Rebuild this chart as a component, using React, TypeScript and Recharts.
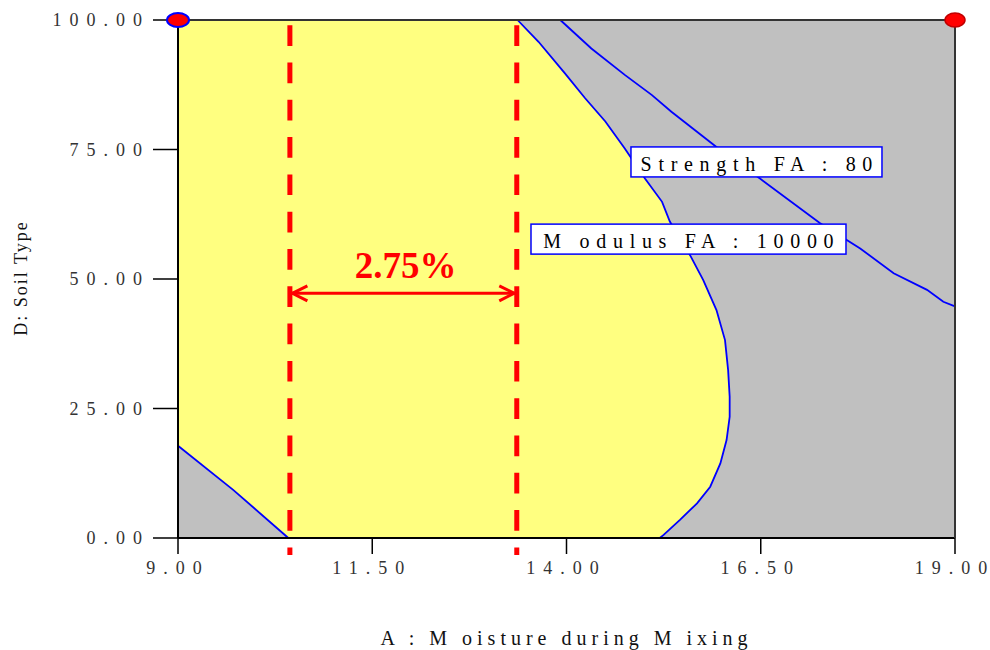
import React from 'react';
import { ComposedChart, XAxis, YAxis, CartesianGrid, Scatter, ReferenceLine, Label } from 'recharts';

// ---------------- data ----------------
const xTicks = [9, 11.5, 14, 16.5, 19];
const yTicks = [0, 25, 50, 75, 100];
const xAxisTitle = 'A : M oisture during M ixing';
const yAxisTitle = 'D: Soil Type';

// Modulus FA : 10000 contour (right boundary of the feasible region)
const modulusContour = [
  { x: 13.37, y: 100 }, { x: 13.64, y: 95.8 }, { x: 13.98, y: 89.7 }, { x: 14.24, y: 84.9 },
  { x: 14.5, y: 80.4 }, { x: 14.75, y: 75.2 }, { x: 15.01, y: 69.4 }, { x: 15.23, y: 64.9 },
  { x: 15.33, y: 61.1 }, { x: 15.59, y: 54.6 }, { x: 15.76, y: 49.8 }, { x: 15.93, y: 44.0 },
  { x: 16.04, y: 38.2 }, { x: 16.08, y: 32.4 }, { x: 16.1, y: 27.3 }, { x: 16.1, y: 23.4 },
  { x: 16.06, y: 18.9 }, { x: 15.98, y: 14.4 }, { x: 15.85, y: 9.9 }, { x: 15.68, y: 6.7 },
  { x: 15.46, y: 3.5 }, { x: 15.25, y: 0.6 }, { x: 15.2, y: 0 },
];
const modulusOuterCorners = [{ x: 19, y: 0 }, { x: 19, y: 100 }];
// Lower-left infeasible corner
const modulusLowContour = [{ x: 9, y: 17.8 }, { x: 9.71, y: 9.3 }, { x: 10.42, y: 0 }];
const modulusLowCorner = [{ x: 9, y: 0 }];
// Strength FA : 80 contour
const strengthContour = [
  { x: 13.92, y: 100 }, { x: 14.32, y: 94.5 }, { x: 14.75, y: 89.4 }, { x: 15.1, y: 85.5 },
  { x: 15.35, y: 82.3 }, { x: 15.93, y: 75.5 }, { x: 16.49, y: 69.4 }, { x: 17.26, y: 60.8 },
  { x: 17.78, y: 55.9 }, { x: 18.21, y: 51.1 }, { x: 18.64, y: 47.9 }, { x: 18.85, y: 45.6 },
  { x: 19, y: 44.7 },
];
// Moisture window
const windowBounds = [10.44, 13.36];
const boundsSpan = [99, -3.3];
const arrowLevel = 47.24;
const windowLabel = [{ x: 11.93, y: 50.13, text: '2.75%' }];
const contourLabels = [
  { x: 16.445, y: 72.6, text: 'Strength FA : 80' },
  { x: 15.57, y: 57.7, text: 'M odulus FA : 10000' },
];
const designPoints = [{ x: 9, y: 100, kind: 'a' }, { x: 19, y: 100, kind: 'b' }];

// ---------------- styles ----------------
const SERIF = "'Liberation Serif', 'Times New Roman', Times, serif";
const YELLOW = '#FFFF80';
const GREY = '#C0C0C0';
const BLUE = '#0000FF';
const RED = '#FF0000';
const LABEL_BOX_W: Record<string, number> = { 'Strength FA : 80': 251, 'M odulus FA : 10000': 315 };
const LABEL_BOX_H = 30;
const TICK_FONT = 18;
const TICK_LS = 8;

const fmt = (v: number) => v.toFixed(2);

const spaced = (s: string, ls: number) =>
  s.split('').map((ch, i) => (
    <tspan key={i} dx={i === 0 ? 0 : ls}>{ch}</tspan>
  ));

const Nothing = () => <g />;

const XTick = (props: any) => {
  const { x, y, payload } = props;
  return (
    <text x={x - TICK_LS / 2} y={y} dy="0.71em" textAnchor="middle" fontSize={TICK_FONT}
      fill="#333" fontFamily={SERIF}>{spaced(fmt(payload.value), TICK_LS)}</text>
  );
};

const YTick = (props: any) => {
  const { x, y, payload } = props;
  return (
    <text x={x} y={y} dy="0.355em" textAnchor="end" fontSize={TICK_FONT} letterSpacing={TICK_LS}
      fill="#333" fontFamily={SERIF}>{fmt(payload.value)}</text>
  );
};

const XTitle = (props: any) => {
  const vb = props.viewBox || {};
  return (
    <text x={vb.x + vb.width / 2} y={vb.y + 107} textAnchor="middle" fontSize={20} letterSpacing={5}
      fill="#111" fontFamily={SERIF}>{xAxisTitle}</text>
  );
};

const YTitle = (props: any) => {
  const vb = props.viewBox || {};
  const x = vb.x + 27;
  const y = vb.y + vb.height / 2 - 1;
  return (
    <text x={x} y={y} transform={`rotate(-90, ${x}, ${y})`} textAnchor="middle" fontSize={18}
      letterSpacing={2} fill="#111" fontFamily={SERIF}>{yAxisTitle}</text>
  );
};

const Arrowhead = (props: any) => {
  const { cx, cy, payload } = props;
  const d = payload.dir;
  const tip = cx - d * 2.5;
  const back = tip - d * 15;
  return (
    <path d={`M${back},${cy - 7.5}L${tip},${cy}L${back},${cy + 7.5}`} fill="none" stroke={RED}
      strokeWidth={3} />
  );
};

const WindowText = (props: any) => {
  const { cx, cy, payload } = props;
  return (
    <text x={cx} y={cy} textAnchor="middle" fontSize={37} fontWeight="bold" fill={RED}
      fontFamily={SERIF}>{payload.text}</text>
  );
};

const ContourLabel = (props: any) => {
  const { cx, cy, payload } = props;
  const w = LABEL_BOX_W[payload.text] || 250;
  const ls = 6.7;
  return (
    <g>
      <rect x={cx - w / 2} y={cy - LABEL_BOX_H / 2} width={w} height={LABEL_BOX_H} fill="#fff"
        stroke={BLUE} strokeWidth={1.5} />
      <text x={cx + ls / 2} y={cy + 9} textAnchor="middle" fontSize={20} letterSpacing={ls} fill="#000"
        fontFamily={SERIF}>{payload.text}</text>
    </g>
  );
};

const DesignPoint = (props: any) => {
  const { cx, cy, payload } = props;
  const a = payload.kind === 'a';
  return (
    <ellipse cx={cx} cy={cy} rx={a ? 11 : 10} ry={7} fill={RED} stroke={a ? BLUE : '#C00000'}
      strokeWidth={a ? 2 : 1.5} />
  );
};

export default function App() {
  const greyMain = [...modulusContour, ...modulusOuterCorners];
  const greyLow = [...modulusLowContour, ...modulusLowCorner];
  const arrowHeads = windowBounds.map((x, i) => ({ x, y: arrowLevel, dir: i === 0 ? -1 : 1 }));

  return (
    <div style={{ position: 'absolute', left: 0, top: 0, width: 990, height: 650 }}>
      <ComposedChart width={990} height={650} margin={{ top: 20, right: 35, bottom: 0, left: 0 }}>
        <CartesianGrid horizontal={false} vertical={false} fill={YELLOW} fillOpacity={1} stroke="none" />

        <Scatter data={greyMain} shape={Nothing} line={{ fill: GREY, stroke: 'none' }}
          isAnimationActive={false} zIndex={10} />
        <Scatter data={greyLow} shape={Nothing} line={{ fill: GREY, stroke: 'none' }}
          isAnimationActive={false} zIndex={10} />
        <Scatter data={modulusContour} shape={Nothing} line={{ stroke: BLUE, strokeWidth: 1.8, fill: 'none' }}
          isAnimationActive={false} zIndex={20} />
        <Scatter data={modulusLowContour} shape={Nothing} line={{ stroke: BLUE, strokeWidth: 1.8, fill: 'none' }}
          isAnimationActive={false} zIndex={20} />
        <Scatter data={strengthContour} shape={Nothing} line={{ stroke: BLUE, strokeWidth: 1.8, fill: 'none' }}
          isAnimationActive={false} zIndex={20} />

        <XAxis type="number" dataKey="x" domain={[9, 19]} ticks={xTicks} interval={0} height={112}
          tickSize={16} tickMargin={7} axisLine={{ stroke: '#000', strokeWidth: 2 }}
          tickLine={{ stroke: '#000', strokeWidth: 1.5 }} tick={XTick}
          label={<Label content={XTitle} />} />
        <YAxis type="number" dataKey="y" domain={[0, 100]} ticks={yTicks} interval={0} width={178}
          tickSize={25} tickMargin={3} axisLine={{ stroke: '#000', strokeWidth: 2 }}
          tickLine={{ stroke: '#000', strokeWidth: 1.5 }} tick={YTick}
          label={<Label content={YTitle} />} />

        <ReferenceLine y={100} stroke="#333" strokeWidth={2} zIndex={550} />
        <ReferenceLine x={19} stroke="#333" strokeWidth={2} zIndex={550} />

        {windowBounds.map((bx) => (
          <ReferenceLine key={bx} ifOverflow="visible" stroke={RED} strokeWidth={5}
            strokeDasharray="20.7 16.6" zIndex={700}
            segment={[{ x: bx, y: boundsSpan[0] }, { x: bx, y: boundsSpan[1] }]} />
        ))}
        <ReferenceLine ifOverflow="visible" stroke={RED} strokeWidth={3} zIndex={710}
          segment={[{ x: windowBounds[0], y: arrowLevel }, { x: windowBounds[1], y: arrowLevel }]} />
        <Scatter data={arrowHeads} shape={Arrowhead} isAnimationActive={false} zIndex={720} />
        <Scatter data={windowLabel} shape={WindowText} isAnimationActive={false} zIndex={730} />
        <Scatter data={contourLabels} shape={ContourLabel} isAnimationActive={false} zIndex={900} />
        <Scatter data={designPoints} shape={DesignPoint} isAnimationActive={false} zIndex={1000} />
      </ComposedChart>
    </div>
  );
}
